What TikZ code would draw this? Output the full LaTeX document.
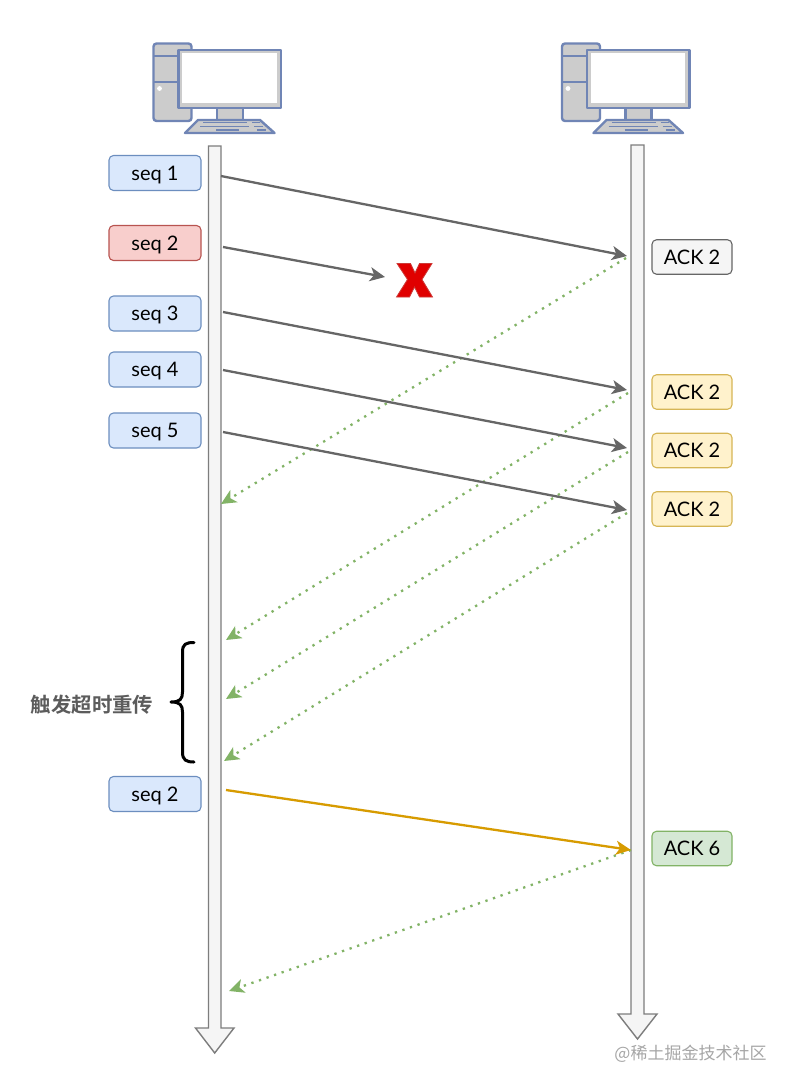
\documentclass[tikz,border=0pt]{standalone}
\usepackage{fontspec}
\setmainfont{Lato}
\newfontfamily\cjk{Noto Sans CJK SC}
\newfontfamily\cjkb{Noto Sans CJK SC Bold}
\usetikzlibrary{arrows.meta}
\definecolor{bluef}{HTML}{DAE8FC}\definecolor{blued}{HTML}{6C8EBF}
\definecolor{redf}{HTML}{F8CECC}\definecolor{redd}{HTML}{B85450}
\definecolor{grayf}{HTML}{F5F5F5}\definecolor{grayd}{HTML}{666666}
\definecolor{yelf}{HTML}{FFF2CC}\definecolor{yeld}{HTML}{D6B656}
\definecolor{grnf}{HTML}{D5E8D4}\definecolor{grnd}{HTML}{82B366}
\definecolor{orgd}{HTML}{D79B00}
\definecolor{pcline}{HTML}{7085B5}\definecolor{pcfill}{HTML}{CCCCCC}
\tikzset{
  lbl/.style={draw,rounded corners=4.5pt,line width=1.1pt,minimum height=35pt,inner sep=0pt,font=\fontsize{20}{20}\selectfont,text=black,text depth=0pt},
  seqbox/.style={lbl,minimum width=92pt,fill=bluef,draw=blued},
  ackbox/.style={lbl,minimum width=80pt,minimum height=34.5pt,fill=yelf,draw=yeld},
  life/.style={draw=grayd!85,fill=grayf,line width=1.4pt,line join=miter},
  msg/.style={draw=grayd,line width=2.3pt,-{Stealth[length=15pt,width=14pt,inset=4pt]}},
  resend/.style={draw=orgd,line width=2.3pt,-{Stealth[length=15pt,width=14pt,inset=4pt]}},
  reply/.style={draw=grnd,line width=2.3pt,dash pattern=on 2.3pt off 5.7pt,-{Stealth[length=15pt,width=14pt,inset=4pt]}},
  pc/.style={draw=pcline,line width=2.4pt,line join=round,fill=pcfill},
  pcbar/.style={draw=pcline,line width=1.8pt},
  pics/computer/.style={code={
    \draw[pc,rounded corners=3pt] (153.5,43.5) rectangle (191.5,121);
    \draw[pc] (153.5,56) -- (191.5,56) (153.5,82) -- (178,82);
    \fill[white] (159.5,88.5) circle (2.4pt);
    \draw[pc] (217,107) rectangle (243,120);
    \draw[pc] (178.5,50) rectangle (281,108);
    \fill[white] (182,53.5) rectangle (276.5,103.5);
    \draw[pc] (198,120) -- (260,120) -- (274.5,133) -- (185,133) -- cycle;
    \draw[pcbar] (203,122.5) -- (247,122.5) (252,122.5) -- (260,122.5)
      (200,126.5) -- (249,126.5) (254,126.5) -- (263,126.5)
      (216,130) -- (239,130) (257,130) -- (266,130);
  }}
}
\begin{document}
\begin{tikzpicture}[x=1pt,y=-1pt]
\useasboundingbox (0,0) rectangle (790,1089);
\fill[white] (0,0) rectangle (790,1089);

\pic {computer};
\begin{scope}[xshift=408.5pt]\pic {computer};\end{scope}

% lifelines
\draw[life] (208.5,146) -- (221,146) -- (221,1028) -- (234,1028) -- (214.7,1053) -- (195.5,1028) -- (208.5,1028) -- cycle;
\draw[life] (631,145) -- (644,145) -- (644,1014) -- (657,1014) -- (637.5,1039) -- (618,1014) -- (631,1014) -- cycle;

% boxes
\node[seqbox] (s1) at (155,173) {seq 1};
\node[seqbox,fill=redf,draw=redd] (s2) at (155,243) {seq 2};
\node[seqbox] (s3) at (155,313.5) {seq 3};
\node[seqbox] (s4) at (155,369.5) {seq 4};
\node[seqbox] (s5) at (155,430.5) {seq 5};
\node[seqbox] (s6) at (155,794) {seq 2};
\node[ackbox,fill=grayf,draw=grayd] (a1) at (692,257) {ACK 2};
\node[ackbox] (a2) at (692,392) {ACK 2};
\node[ackbox] (a3) at (692,450.5) {ACK 2};
\node[ackbox] (a4) at (692,509) {ACK 2};
\node[ackbox,fill=grnf,draw=grnd] (a5) at (692,848.5) {ACK 6};

% endpoints
\coordinate (m1a) at (221,176);   \coordinate (m1b) at (627,256);
\coordinate (m2a) at (223,247);   \coordinate (m2b) at (385,277);
\coordinate (m3a) at (223,312);   \coordinate (m3b) at (627,390);
\coordinate (m4a) at (223,370);   \coordinate (m4b) at (627,448);
\coordinate (m5a) at (223,432);   \coordinate (m5b) at (627,510);
\coordinate (m6a) at (226,790);   \coordinate (m6b) at (631,850);
\coordinate (r1a) at (626,258);   \coordinate (r1b) at (221,504);
\coordinate (r2a) at (628,393);   \coordinate (r2b) at (226,640);
\coordinate (r3a) at (628,452);   \coordinate (r3b) at (226,699);
\coordinate (r4a) at (627,513);   \coordinate (r4b) at (224,761);
\coordinate (r5a) at (631,850);   \coordinate (r5b) at (229,991);

\draw[reply] (r1a) -- (r1b);
\draw[reply] (r2a) -- (r2b);
\draw[reply] (r3a) -- (r3b);
\draw[reply] (r4a) -- (r4b);
\draw[reply] (r5a) -- (r5b);
\draw[msg] (m1a) -- (m1b);
\draw[msg] (m2a) -- (m2b);
\draw[msg] (m3a) -- (m3b);
\draw[msg] (m4a) -- (m4b);
\draw[msg] (m5a) -- (m5b);
\draw[resend] (m6a) -- (m6b);

% red X
\draw[draw=redd!70!red,fill=red!88!black,line width=.8pt,line join=miter]
  (397,263.5) -- (410.5,263.5) -- (415,273) -- (419.5,263.5) -- (432,263.5)
  -- (422,279.5) -- (432.5,297) -- (419.5,297) -- (414.5,287) -- (409.5,297) -- (396.5,297)
  -- (407.5,279.5) -- cycle;

% brace
\draw[black,line width=3pt,line cap=round,line join=round]
  (194,642.5) .. controls (186,642.5) and (182.5,644) .. (182.5,652)
  -- (182.5,692) .. controls (182.5,699) and (180,702) .. (171,702)
  .. controls (180,702) and (182.5,705) .. (182.5,712)
  -- (182.5,752) .. controls (182.5,760) and (186,762) .. (194,762);

\node[font={\cjkb\fontsize{20.4}{20.4}\selectfont},text=grayd!90!black,inner sep=0pt] (t) at (92,704.5) {触发超时重传};
\node[font={\cjk\fontsize{17}{17}\selectfont},text=black!35,inner sep=0pt] (w) at (690.5,1054) {@稀土掘金技术社区};
\end{tikzpicture}
\end{document}
